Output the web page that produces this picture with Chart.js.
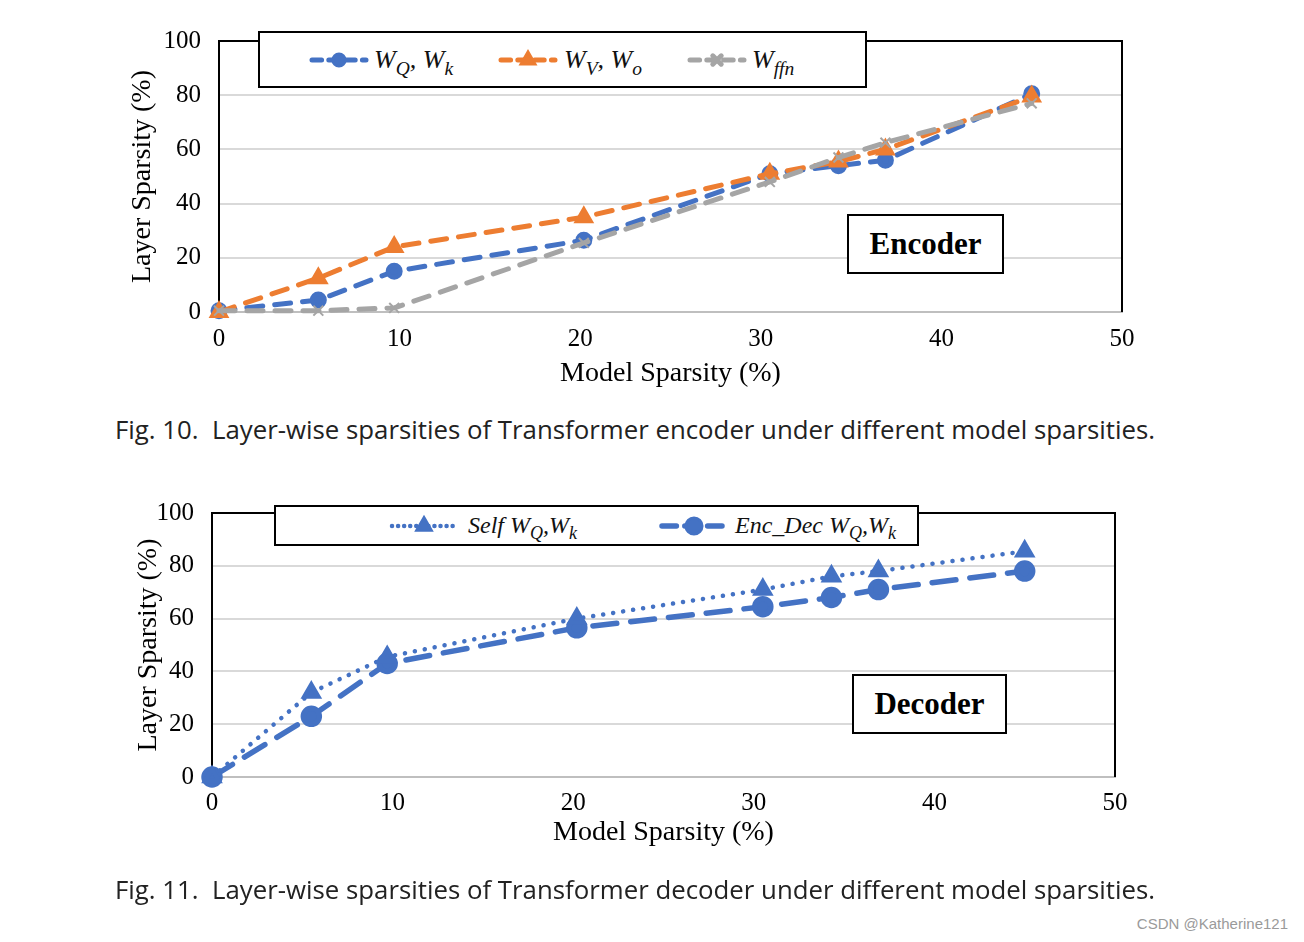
<!DOCTYPE html>
<html>
<head>
<meta charset="utf-8">
<script src="https://cdn.jsdelivr.net/npm/chart.js@4.4.1/dist/chart.umd.min.js"></script>
<style>
  body { margin: 0; background: #fff; width: 1304px; height: 942px; position: relative; overflow: hidden; font-family: "Liberation Serif", serif; }
  .box { position: absolute; }
  .legend { position: absolute; background: #fff; border: 2px solid #000; box-sizing: border-box; font-style: italic; font-size: 26px; color: #111; }
  .item { position: absolute; top: 0; height: 100%; display: flex; align-items: center; white-space: nowrap; }
  .item sub { font-size: 0.75em; vertical-align: -0.35em; line-height: 0; font-style: italic; }
  .tag { position: absolute; background: #fff; border: 2px solid #000; box-sizing: border-box; font-weight: bold; font-size: 31px; display: flex; align-items: center; justify-content: center; }
  .caption { position: absolute; left: 115px; font-family: "Open Sans", sans-serif; font-size: 25.8px; color: #222; white-space: pre; }
  .wm { position: absolute; right: 16px; top: 915px; font-family: "Liberation Sans", sans-serif; font-size: 15px; color: #9a9a9a; }
</style>
</head>
<body>
<div class="box" style="left:110px;top:8px;width:1060px;height:392px"><canvas id="enc"></canvas></div>
<div class="box" style="left:110px;top:480px;width:1060px;height:392px"><canvas id="dec"></canvas></div>

<div class="legend" style="left:258px;top:31px;width:609px;height:57px">
  <div class="item" style="left:48px" id="lg0"></div>
  <div class="item" style="left:114px"><span><i>W</i><sub>Q</sub>,&nbsp;<i>W</i><sub>k</sub></span></div>
  <div class="item" style="left:237px" id="lg1"></div>
  <div class="item" style="left:304px"><span><i>W</i><sub>V</sub>,&nbsp;<i>W</i><sub>o</sub></span></div>
  <div class="item" style="left:426px" id="lg2"></div>
  <div class="item" style="left:492px"><span><i>W</i><sub>ffn</sub></span></div>
</div>
<div class="tag" style="left:847px;top:214px;width:157px;height:60px">Encoder</div>

<div class="legend" style="left:274px;top:505px;width:645px;height:41px;font-size:24px">
  <div class="item" style="left:112px" id="lg3"></div>
  <div class="item" style="left:192px"><span>Self&nbsp;<i>W</i><sub>Q</sub>,<i>W</i><sub>k</sub></span></div>
  <div class="item" style="left:382px" id="lg4"></div>
  <div class="item" style="left:459px"><span>Enc_Dec&nbsp;<i>W</i><sub>Q</sub>,<i>W</i><sub>k</sub></span></div>
</div>
<div class="tag" style="left:852px;top:674px;width:155px;height:60px">Decoder</div>

<div class="caption" style="top:411px">Fig. 10.  Layer-wise sparsities of Transformer encoder under different model sparsities.</div>
<div class="caption" style="top:871px">Fig. 11.  Layer-wise sparsities of Transformer decoder under different model sparsities.</div>
<div class="wm">CSDN @Katherine121</div>

<script>
const modelSparsity = [0, 5.5, 9.7, 20.2, 30.5, 34.3, 36.9, 45];

// encoder layer sparsity (%)
const encWqWk = [0.5, 4.4, 15, 26.5, 51, 54, 56, 80.5];
const encWvWo = [0, 12.5, 24, 35, 51, 55.5, 60, 79.5];
const encWffn = [0.5, 0.5, 1.5, 25.5, 48, 57, 62.5, 77];

// decoder layer sparsity (%)
const decSelf = [0, 32, 45.5, 60, 71, 76, 78, 85.5];
const decEncDec = [0, 23, 43, 56.5, 64.5, 68, 71, 78];

const xTicks = [0, 10, 20, 30, 40, 50];
const yTicks = [0, 20, 40, 60, 80, 100];

const blue = "#4472C4", orange = "#ED7D31", gray = "#A5A5A5";

function pts(ys) {
  return ys.map((y, i) => ({ x: modelSparsity[i], y: y }));
}

const frame = {
  id: "frame",
  beforeDatasetsDraw(chart) {
    const { ctx, chartArea: a } = chart;
    ctx.save();
    ctx.strokeStyle = "#000";
    ctx.lineWidth = 2;
    ctx.beginPath();
    ctx.moveTo(a.left, a.bottom);
    ctx.lineTo(a.left, a.top);
    ctx.lineTo(a.right, a.top);
    ctx.lineTo(a.right, a.bottom);
    ctx.stroke();
    ctx.restore();
  }
};

function makeChart(id, datasets, cfg) {
  return new Chart(id, {
    type: "line",
    data: { datasets: datasets },
    plugins: [frame],
    options: {
      responsive: true,
      maintainAspectRatio: false,
      animation: false,
      layout: { padding: { top: 9, right: cfg.right, left: 0, bottom: 0 } },
      plugins: { legend: { display: false }, tooltip: { enabled: false } },
      scales: {
        x: {
          type: "linear", min: 0, max: 50,
          afterBuildTicks: (s) => { s.ticks = xTicks.map(v => ({ value: v })); },
          afterFit: (s) => { s.height = cfg.xh; },
          grid: { display: false, drawTicks: false },
          border: { color: "#bfbfbf", width: 2 },
          ticks: { padding: cfg.xpad, color: "#000", font: { family: "Liberation Serif", size: 25 } },
          title: { display: true, text: "Model Sparsity (%)", color: "#000",
                   font: { family: "Liberation Serif", size: 28 }, padding: { top: cfg.xtp, bottom: cfg.xtp } }
        },
        y: {
          min: 0, max: 100,
          afterBuildTicks: (s) => { s.ticks = yTicks.map(v => ({ value: v })); },
          afterFit: (s) => { s.width = cfg.yw; },
          grid: { color: "#d9d9d9", lineWidth: 2, drawTicks: false },
          border: { color: "#000", width: 2 },
          ticks: { padding: 18, color: "#000", font: { family: "Liberation Serif", size: 25 } },
          title: { display: true, text: "Layer Sparsity (%)", color: "#000",
                   font: { family: "Liberation Serif", size: 28 }, padding: { top: cfg.ytp, bottom: cfg.ytp } }
        }
      }
    }
  });
}

const encSets = [
  { data: pts(encWqWk), borderColor: blue, backgroundColor: blue, borderWidth: 5, borderDash: [16, 12],
    borderCapStyle: "round", pointStyle: "circle", pointRadius: 6, order: 3, clip: false },
  { data: pts(encWvWo), borderColor: orange, backgroundColor: orange, borderWidth: 5, borderDash: [16, 12],
    borderCapStyle: "round", pointStyle: "triangle", pointRadius: 7, order: 2, clip: false },
  { data: pts(encWffn), borderColor: gray, backgroundColor: gray, borderWidth: 5, borderDash: [16, 12],
    borderCapStyle: "round", pointStyle: "crossRot", pointRadius: 7, pointBorderWidth: 2, order: 1, clip: false }
];

const decSets = [
  { data: pts(decSelf), borderColor: blue, backgroundColor: blue, borderWidth: 4.5, borderDash: [0.1, 10],
    borderCapStyle: "round", pointStyle: "triangle", pointRadius: 8, order: 1, clip: false },
  { data: pts(decEncDec), borderColor: blue, backgroundColor: blue, borderWidth: 5.5, borderDash: [24, 14],
    borderCapStyle: "round", pointStyle: "circle", pointRadius: 8, order: 2, clip: false }
];

makeChart("enc", encSets, { right: 48, xh: 88, xpad: 12, xtp: 10, yw: 109, ytp: 16 });
makeChart("dec", decSets, { right: 55, xh: 95, xpad: 11, xtp: 23, yw: 102, ytp: 22 });

// legend samples drawn with the same stroke styles as the datasets
function sample(id, ds, w) {
  const c = document.createElement("canvas");
  c.width = w; c.height = 30;
  const g = c.getContext("2d");
  g.strokeStyle = ds.borderColor;
  g.lineWidth = ds.borderWidth;
  g.lineCap = "round";
  g.setLineDash(ds.borderDash.map(v => v * 0.6));
  g.beginPath(); g.moveTo(4, 15); g.lineTo(w - 4, 15); g.stroke();
  g.setLineDash([]);
  Chart.helpers.drawPoint(g, { pointStyle: ds.pointStyle, radius: ds.pointRadius * 0.85, borderWidth: ds.pointBorderWidth || 1 }, w / 2, 15);
  g.fillStyle = ds.backgroundColor;
  g.fill();
  document.getElementById(id).appendChild(c);
}
encSets.forEach((ds, i) => sample("lg" + i, ds, 62));
decSets.forEach((ds, i) => sample("lg" + (i + 3), ds, 72));
</script>
</body>
</html>
